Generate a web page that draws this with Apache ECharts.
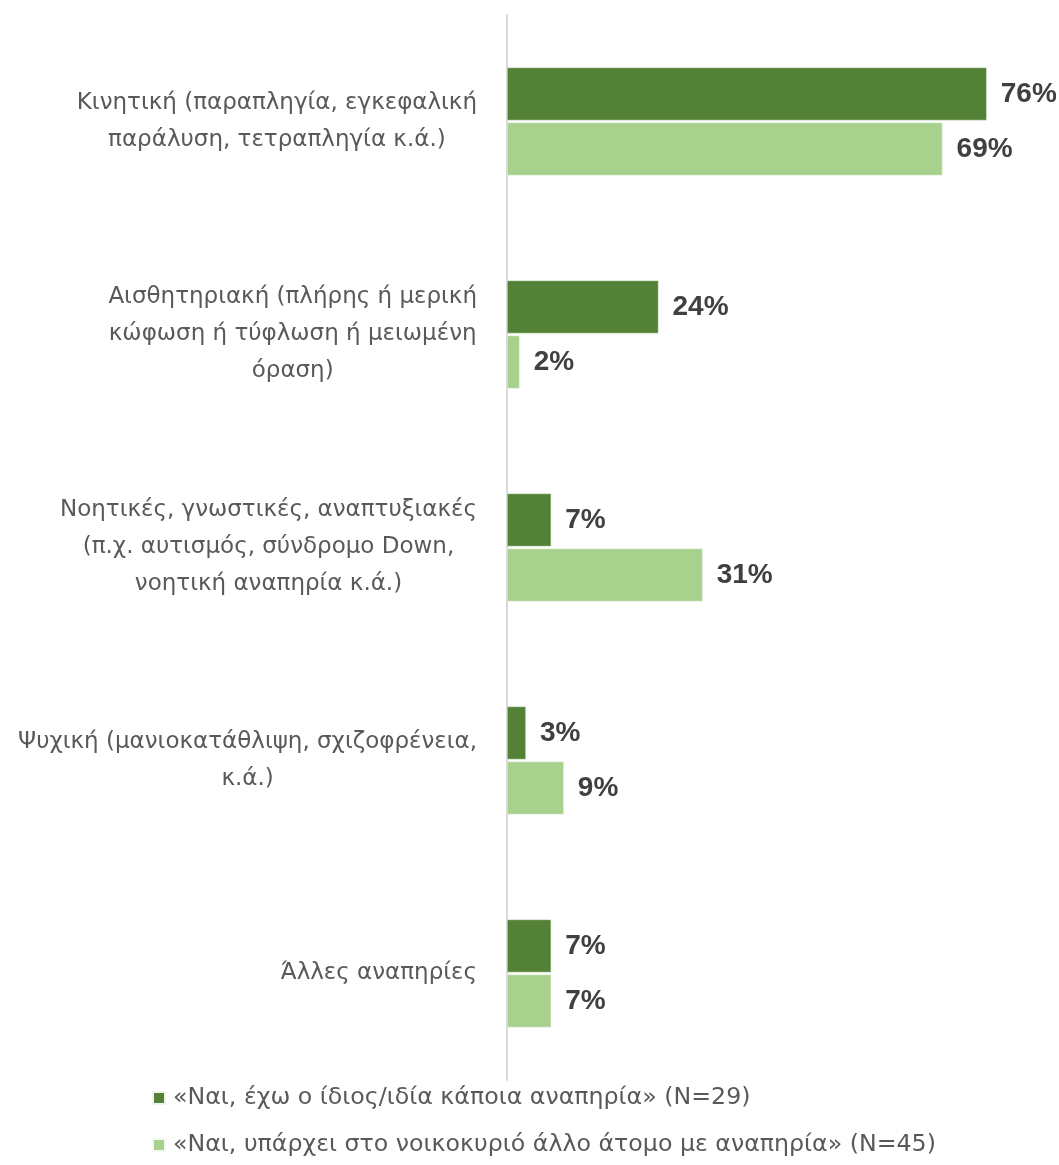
<!DOCTYPE html>
<html>
<head>
<meta charset="utf-8">
<script src="https://cdn.jsdelivr.net/npm/echarts@6/dist/echarts.min.js"></script>
<style>
html,body{margin:0;padding:0;background:#fff;}
#chart{width:1059px;height:1165px;}
</style>
</head>
<body>
<div id="chart"></div>
<script>
const categories = [
  "Κινητική (παραπληγία, εγκεφαλική\nπαράλυση, τετραπληγία κ.ά.)",
  "Αισθητηριακή (πλήρης ή μερική\nκώφωση ή τύφλωση ή μειωμένη\nόραση)",
  "Νοητικές, γνωστικές, αναπτυξιακές\n(π.χ. αυτισμός, σύνδρομο Down,\nνοητική αναπηρία κ.ά.)",
  "Ψυχική (μανιοκατάθλιψη, σχιζοφρένεια,\nκ.ά.)",
  "Άλλες αναπηρίες"
];
const seriesNames = [
  "«Ναι, έχω ο ίδιος/ιδία κάποια αναπηρία» (N=29)",
  "«Ναι, υπάρχει στο νοικοκυριό άλλο άτομο με αναπηρία» (N=45)"
];
const selfValues = [76, 24, 7, 3, 7];
const householdValues = [69, 2, 31, 9, 7];

const chart = echarts.init(document.getElementById('chart'));
const valueLabel = {
  show: true,
  position: 'right',
  distance: 14,
  formatter: '{c}%',
  fontFamily: '"Liberation Sans Narrow", "Liberation Sans", Arial, sans-serif',
  fontWeight: 'bold',
  fontSize: 28,
  color: '#404040'
};
chart.setOption({
  backgroundColor: '#ffffff',
  animation: false,
  grid: { left: 507, right: 47, top: 15, bottom: 85, containLabel: false, outerBoundsMode: 'none' },
  xAxis: {
    type: 'value', min: 0, max: 80, show: false
  },
  yAxis: {
    type: 'category',
    inverse: true,
    data: categories,
    axisLine: { show: true, lineStyle: { color: '#d9d9d9', width: 2 } },
    axisTick: { show: false },
    splitLine: { show: false },
    axisLabel: {
      align: 'right',
      margin: 30,
      formatter: function (v) {
        return v.split('\n').map(l => '{c|' + l + '}').join('\n');
      },
      rich: {
        c: {
          align: 'center',
          fontFamily: '"DejaVu Sans", "Liberation Sans", Arial, sans-serif',
          fontSize: 23,
          lineHeight: 37,
          color: '#595959'
        }
      }
    }
  },
  legend: {
    orient: 'vertical',
    left: 147,
    top: 1081,
    itemWidth: 12,
    itemHeight: 12,
    itemGap: 23,
    icon: 'rect',
    textStyle: {
      fontFamily: '"DejaVu Sans", "Liberation Sans", Arial, sans-serif',
      fontSize: 23.7,
      color: '#595959',
      padding: [0, 0, 0, 3]
    },
    data: seriesNames
  },
  series: [
    {
      name: seriesNames[0],
      type: 'bar',
      data: selfValues,
      barWidth: 53,
      barGap: '4%',
      itemStyle: { color: '#538135', borderColor: '#eef5ea', borderWidth: 0.5 },
      label: valueLabel
    },
    {
      name: seriesNames[1],
      type: 'bar',
      data: householdValues,
      barWidth: 53,
      barGap: '4%',
      itemStyle: { color: '#a9d18e', borderColor: '#f3f9ef', borderWidth: 0.5 },
      label: valueLabel
    }
  ]
});
</script>
</body>
</html>
